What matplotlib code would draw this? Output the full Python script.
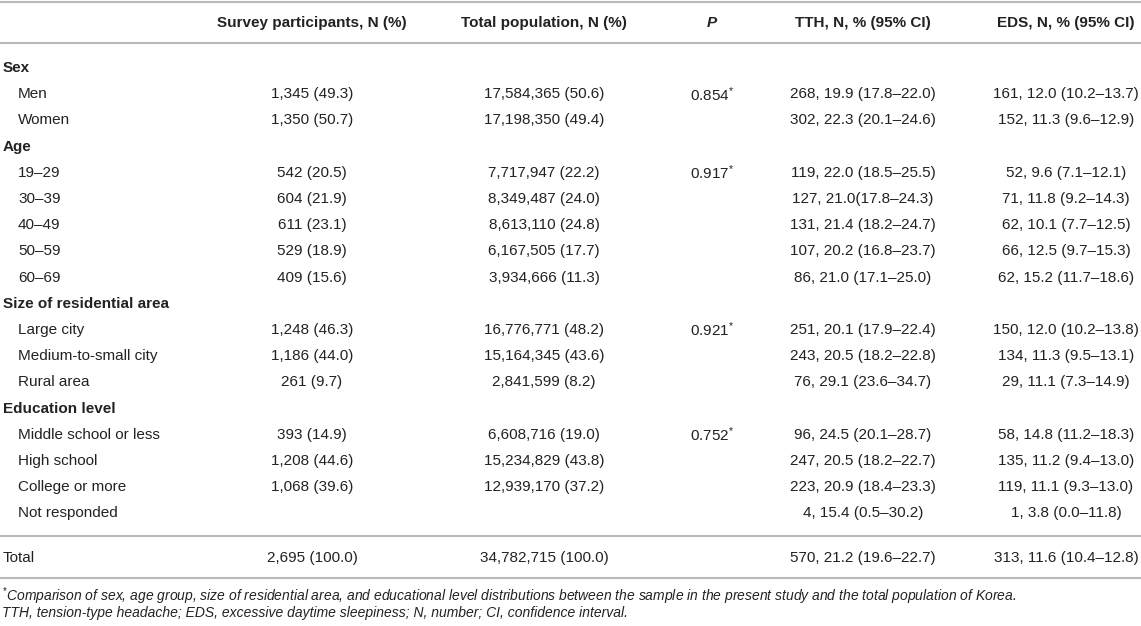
import matplotlib.pyplot as plt

plt.rcParams['font.family'] = ['Liberation Sans', 'DejaVu Sans']
plt.rcParams['mathtext.fontset'] = 'custom'
plt.rcParams['mathtext.rm'] = 'Liberation Sans'
plt.rcParams['mathtext.it'] = 'Liberation Sans:italic'
plt.rcParams['mathtext.bf'] = 'Liberation Sans:bold'

# Table content
headers = ["Survey participants, N (%)", "Total population, N (%)", "P",
           "TTH, N, % (95% CI)", "EDS, N, % (95% CI)"]

groups = ["Sex", "Age", "Size of residential area", "Education level"]
group_levels = [
    ["Men", "Women"],
    ["19–29", "30–39", "40–49", "50–59", "60–69"],
    ["Large city", "Medium-to-small city", "Rural area"],
    ["Middle school or less", "High school", "College or more", "Not responded"],
]
p_values = ["0.854", "0.917", "0.921", "0.752"]

survey = ["1,345 (49.3)", "1,350 (50.7)",
          "542 (20.5)", "604 (21.9)", "611 (23.1)", "529 (18.9)", "409 (15.6)",
          "1,248 (46.3)", "1,186 (44.0)", "261 (9.7)",
          "393 (14.9)", "1,208 (44.6)", "1,068 (39.6)", ""]
population = ["17,584,365 (50.6)", "17,198,350 (49.4)",
              "7,717,947 (22.2)", "8,349,487 (24.0)", "8,613,110 (24.8)",
              "6,167,505 (17.7)", "3,934,666 (11.3)",
              "16,776,771 (48.2)", "15,164,345 (43.6)", "2,841,599 (8.2)",
              "6,608,716 (19.0)", "15,234,829 (43.8)", "12,939,170 (37.2)", ""]
tth = ["268, 19.9 (17.8–22.0)", "302, 22.3 (20.1–24.6)",
       "119, 22.0 (18.5–25.5)", "127, 21.0(17.8–24.3)", "131, 21.4 (18.2–24.7)",
       "107, 20.2 (16.8–23.7)", "86, 21.0 (17.1–25.0)",
       "251, 20.1 (17.9–22.4)", "243, 20.5 (18.2–22.8)", "76, 29.1 (23.6–34.7)",
       "96, 24.5 (20.1–28.7)", "247, 20.5 (18.2–22.7)", "223, 20.9 (18.4–23.3)",
       "4, 15.4 (0.5–30.2)"]
eds = ["161, 12.0 (10.2–13.7)", "152, 11.3 (9.6–12.9)",
       "52, 9.6 (7.1–12.1)", "71, 11.8 (9.2–14.3)", "62, 10.1 (7.7–12.5)",
       "66, 12.5 (9.7–15.3)", "62, 15.2 (11.7–18.6)",
       "150, 12.0 (10.2–13.8)", "134, 11.3 (9.5–13.1)", "29, 11.1 (7.3–14.9)",
       "58, 14.8 (11.2–18.3)", "135, 11.2 (9.4–13.0)", "119, 11.1 (9.3–13.0)",
       "1, 3.8 (0.0–11.8)"]
total_row = ["Total", "2,695 (100.0)", "34,782,715 (100.0)", "",
             "570, 21.2 (19.6–22.7)", "313, 11.6 (10.4–12.8)"]

footnotes = [
    r"$^{*}$Comparison of sex, age group, size of residential area, and educational level "
    "distributions between the sample in the present study and the total population of Korea.",
    "TTH, tension-type headache; EDS, excessive daytime sleepiness; N, number; CI, confidence interval.",
]

# Layout (pixel space)
W, H = 1141, 626
col_x = [312, 544, 712, 863, 1066]
txt = '#222222'
rule = '#b9b9b9'
fs = 11

fig = plt.figure(figsize=(W / 100, H / 100), dpi=100)
ax = fig.add_axes([0, 0, 1, 1])
ax.set_xlim(0, W)
ax.set_ylim(H, 0)
ax.axis('off')

# horizontal rules
for y in [2, 43, 536, 578]:
    ax.axhline(y, color=rule, lw=1.5)

# header
for i, h in enumerate(headers):
    style = 'italic' if h == "P" else 'normal'
    ax.text(col_x[i], 23, h, ha='center', va='center', fontsize=fs,
            fontweight='bold', fontstyle=style, color=txt)

# body
y0, dy = 68, 26.2
row = 0
k = 0
for g, levels in enumerate(group_levels):
    ax.text(3, y0 + row * dy, groups[g], ha='left', va='center', fontsize=fs,
            fontweight='bold', color=txt)
    row += 1
    for j, lev in enumerate(levels):
        y = y0 + row * dy
        ax.text(18, y, lev, ha='left', va='center', fontsize=fs, color=txt)
        cells = [survey[k], population[k], "", tth[k], eds[k]]
        if j == 0:
            cells[2] = p_values[g] + r"$^{*}$"
        for c, s in enumerate(cells):
            if s:
                ax.text(col_x[c], y, s, ha='center', va='center', fontsize=fs, color=txt)
        row += 1
        k += 1

# total row
ax.text(3, 558, total_row[0], ha='left', va='center', fontsize=fs, color=txt)
for c, s in enumerate(total_row[1:]):
    if s:
        ax.text(col_x[c], 558, s, ha='center', va='center', fontsize=fs, color=txt)

# footnotes
for i, f in enumerate(footnotes):
    ax.text(2, 596 + i * 17, f, ha='left', va='center', fontsize=10,
            fontstyle='italic', color=txt)

plt.savefig('out.png', dpi=100)
